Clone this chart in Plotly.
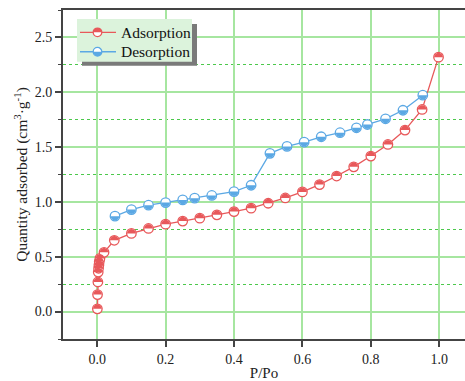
import math
import plotly.graph_objects as go

# ---------------- data ----------------
series_names = ["Adsorption", "Desorption"]
ads_x = [0.0005, 0.001, 0.002, 0.003, 0.004, 0.005, 0.006, 0.008, 0.02, 0.05, 0.10,
         0.15, 0.20, 0.25, 0.30, 0.35, 0.40, 0.45, 0.50, 0.55, 0.60, 0.65, 0.70,
         0.75, 0.80, 0.85, 0.90, 0.95, 0.998]
ads_y = [0.025, 0.155, 0.27, 0.36, 0.395, 0.425, 0.455, 0.485, 0.54, 0.65, 0.713,
         0.758, 0.797, 0.825, 0.852, 0.882, 0.912, 0.943, 0.988, 1.036, 1.091, 1.158, 1.236,
         1.32, 1.418, 1.524, 1.655, 1.843, 2.32]
des_x = [0.052, 0.10, 0.15, 0.20, 0.25, 0.285, 0.335, 0.40, 0.45, 0.505, 0.555,
         0.605, 0.655, 0.71, 0.758, 0.79, 0.843, 0.894, 0.952]
des_y = [0.87, 0.93, 0.97, 0.994, 1.018, 1.034, 1.059, 1.094, 1.152, 1.443, 1.506,
         1.545, 1.594, 1.631, 1.676, 1.706, 1.758, 1.836, 1.973]

x_range = [-0.1, 1.0754]
y_range = [-0.25, 2.75]

RED = "#E8585A"
BLUE = "#5BA8E4"
FONT = "Liberation Serif"
MINOR_GREEN = "#4cc84c"
MAJOR_GREEN = "#a6e6a0"

W, H = 465, 381
ML, MR, MT, MB = 63, 0, 10, 40
PW, PH = W - ML - MR, H - MT - MB


def px2paper(px, py):
    return (px - ML) / PW, (H - MB - py) / PH


def half_disc(r, top=True, n=24):
    pts = []
    for i in range(n + 1):
        a = math.pi * i / n
        if not top:
            a = -a
        pts.append((r * math.cos(a), r * math.sin(a)))
    return "M " + " L ".join(f"{x:.3f},{y:.3f}" for x, y in pts) + " Z"


fig = go.Figure()
R = 4.3
MSIZE = 9.5

for xs, ys, col, name in [(ads_x, ads_y, RED, series_names[0]),
                           (des_x, des_y, BLUE, series_names[1])]:
    fig.add_trace(go.Scatter(
        x=xs, y=ys, mode="lines+markers", name=name,
        line=dict(color=col, width=1.3),
        marker=dict(symbol="circle", size=MSIZE, color="white",
                    line=dict(color=col, width=1.3)),
        showlegend=False))

shapes = []
for xs, ys, col, top in [(ads_x, ads_y, RED, True), (des_x, des_y, BLUE, False)]:
    p = half_disc(R, top)
    for x, y in zip(xs, ys):
        shapes.append(dict(type="path", xref="x", yref="y", xsizemode="pixel",
                           ysizemode="pixel", xanchor=x, yanchor=y, path=p,
                           fillcolor=col, line=dict(width=0), layer="above"))

# ---- manual legend ----
sx0, sy0 = px2paper(82, 66)
sx1, sy1 = px2paper(197, 24)
shapes.append(dict(type="rect", xref="paper", yref="paper", x0=sx0, y0=sy0, x1=sx1, y1=sy1,
                   fillcolor="#7a7a7a", line=dict(width=0), layer="above"))
bx0, by0 = px2paper(77, 62)
bx1, by1 = px2paper(192, 19)
shapes.append(dict(type="rect", xref="paper", yref="paper", x0=bx0, y0=by0, x1=bx1, y1=by1,
                   fillcolor="#dcf3dc", line=dict(width=0), layer="above"))
annotations = []
for i, (name, col, top) in enumerate([(series_names[0], RED, True), (series_names[1], BLUE, False)]):
    py = 32.5 + i * 19.5
    lx0, ly = px2paper(80, py)
    lx1, _ = px2paper(116, py)
    mx, _ = px2paper(97.5, py)
    shapes.append(dict(type="line", xref="paper", yref="paper", x0=lx0, x1=lx1, y0=ly, y1=ly,
                       line=dict(color=col, width=1.3), layer="above"))
    shapes.append(dict(type="circle", xref="paper", yref="paper", xsizemode="pixel",
                       ysizemode="pixel", xanchor=mx, yanchor=ly, x0=-R, x1=R, y0=-R, y1=R,
                       fillcolor="white", line=dict(color=col, width=1.3), layer="above"))
    shapes.append(dict(type="path", xref="paper", yref="paper", xsizemode="pixel",
                       ysizemode="pixel", xanchor=mx, yanchor=ly, path=half_disc(R, top),
                       fillcolor=col, line=dict(width=0), layer="above"))
    tx, _ = px2paper(119, py)
    annotations.append(dict(xref="paper", yref="paper", x=tx, y=ly, text=name, showarrow=False,
                            xanchor="left", yanchor="middle",
                            font=dict(family=FONT, size=15.5, color="#111")))

fig.update_layout(
    width=W, height=H,
    margin=dict(l=ML, r=MR, t=MT, b=MB),
    paper_bgcolor="white", plot_bgcolor="white",
    shapes=shapes, annotations=annotations,
    showlegend=False,
    font=dict(family=FONT, size=14, color="#222"),
    xaxis2=dict(overlaying="x", anchor="y", side="bottom", range=x_range,
                tick0=0, dtick=0.1, showticklabels=False,
                showgrid=True, gridcolor=MINOR_GREEN, gridwidth=1,
                zeroline=False, showline=False,
                ticks="outside", ticklen=3, tickwidth=1.2, tickcolor="#444"),
)

fig.update_xaxes(
    selector=dict(anchor="y", overlaying=None),
    range=x_range, tick0=0, dtick=0.2, tickformat=".1f",
    showgrid=True, gridcolor=MAJOR_GREEN, gridwidth=2,
    zeroline=False,
    showline=True, linecolor="#444", linewidth=2, mirror=True,
    ticks="outside", ticklen=6, tickwidth=1.5, tickcolor="#444",
    tickfont=dict(family=FONT, size=14, color="#222"),
    title=dict(text="P/Po", font=dict(family=FONT, size=15, color="#222"), standoff=4),
)
fig.layout.xaxis.update(
    range=x_range, tick0=0, dtick=0.2, tickformat=".1f",
    showgrid=True, gridcolor=MAJOR_GREEN, gridwidth=2,
    zeroline=False,
    showline=True, linecolor="#444", linewidth=2, mirror=True,
    ticks="outside", ticklen=6, tickwidth=1.5, tickcolor="#444",
    tickfont=dict(family=FONT, size=14, color="#222"),
    title=dict(text="P/Po", font=dict(family=FONT, size=15, color="#222"), standoff=4),
)
fig.update_yaxes(
    range=y_range, tick0=0, dtick=0.5, tickformat=".1f",
    showgrid=True, gridcolor=MAJOR_GREEN, gridwidth=2,
    zeroline=False,
    showline=True, linecolor="#444", linewidth=2, mirror=False,
    ticks="outside", ticklen=6, tickwidth=1.5, tickcolor="#444",
    minor=dict(dtick=0.25, tick0=0, showgrid=True, gridcolor=MINOR_GREEN, gridwidth=1,
               griddash="dot", ticks="outside", ticklen=3, tickcolor="#444", tickwidth=1.2),
    tickfont=dict(family=FONT, size=14, color="#222"),
    title=dict(text="Quantity adsorbed (cm<sup>3</sup>·g<sup>-1</sup>)",
               font=dict(family=FONT, size=15.5, color="#222"), standoff=3),
)

fig.write_html("out.html")
